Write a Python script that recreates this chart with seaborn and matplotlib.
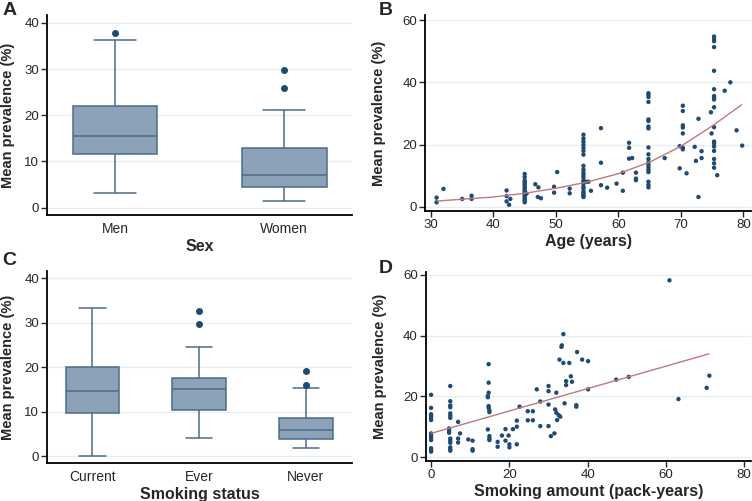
import numpy as np
import pandas as pd
import matplotlib
matplotlib.use("Agg")
import matplotlib.pyplot as plt
import seaborn as sns

# ---------- data ----------
# A: mean prevalence by sex
men_prev = [3.2, 8.0, 11.6, 13.5, 15.4, 18.5, 22.0, 36.2, 37.9]
women_prev = [1.5, 2.5, 3.5, 4.5, 5.5, 6.3, 7.1, 9.0, 11.0, 12.9, 21.2, 25.9, 29.8]
sex_labels = ["Men", "Women"]

# C: mean prevalence by smoking status
current_prev = [0.1, 5.0, 9.8, 12.0, 14.7, 17.0, 20.0, 26.0, 33.4]
ever_prev = [4.2, 7.0, 9.0, 10.4, 12.0, 13.5, 15.0, 16.0, 16.8, 17.5, 24.6, 29.8, 32.6]
never_prev = [1.9, 2.5, 3.2, 3.8, 4.5, 5.3, 6.0, 6.8, 7.6, 8.5, 15.4, 15.9, 19.1]
smoke_labels = ["Current", "Ever", "Never"]

# B: prevalence vs age
age = [30.9, 30.9, 32.0, 35.0, 36.5, 36.5, 42.1, 42.1, 42.1, 42.5, 42.7,
       45.0, 45.0, 45.0, 45.0, 45.0, 45.0, 45.0, 45.0, 45.0, 45.0, 45.0, 45.0, 45.0, 45.0, 45.0, 45.0, 45.0, 45.3,
       46.7, 47.2, 47.1, 47.6, 49.7, 49.7, 50.2, 52.2, 52.2,
       54.4, 54.4, 54.4, 54.4, 54.4, 54.4, 54.4, 54.4, 54.4, 54.4, 54.4, 54.4, 54.4, 54.4, 54.4, 54.4, 54.4,
       54.4, 54.4, 54.4, 54.4, 54.4, 54.8, 55.2, 55.6,
       57.2, 57.2, 57.2, 58.2, 59.7, 60.7, 60.7, 61.7, 61.7, 61.7, 62.2, 62.8, 62.8, 62.8,
       64.8, 64.8, 64.8, 64.8, 64.8, 64.8, 64.8, 64.8, 64.8, 64.8, 64.8, 64.8, 64.8, 64.8, 64.8, 64.8,
       64.8, 64.8, 64.8,
       67.4, 69.8, 69.8, 70.3, 70.3, 70.3, 70.3, 70.3, 70.3, 70.3, 70.9,
       72.2, 72.4, 72.8, 72.8, 73.3, 73.3, 74.8, 74.9,
       75.3, 75.3, 75.3, 75.3, 75.3, 75.3, 75.3, 75.3, 75.3, 75.3, 75.3, 75.3, 75.3, 75.3, 75.3, 75.3,
       75.3, 75.3, 75.8, 77.0, 77.9, 78.9, 79.8]
age_prev = [3.0, 1.5, 5.8, 2.6, 3.6, 2.6, 5.3, 3.5, 1.8, 0.7, 2.6,
            10.6, 9.6, 8.5, 8.0, 7.5, 7.0, 6.5, 6.0, 5.5, 5.0, 4.5, 4.0, 3.5, 3.0, 2.5, 2.0, 1.5, 4.3,
            7.3, 6.3, 3.2, 2.8, 6.5, 4.6, 11.2, 5.9, 4.4,
            23.2, 22.0, 21.0, 20.0, 19.0, 18.0, 16.8, 13.2, 12.0, 11.0, 10.3, 9.5, 8.5, 8.0, 7.5, 6.5, 6.0,
            5.0, 4.5, 4.0, 3.5, 3.2, 8.1, 8.1, 5.2,
            25.3, 14.2, 7.0, 6.2, 7.5, 11.0, 5.2, 20.6, 19.0, 15.5, 15.7, 11.0, 9.1, 8.6,
            36.5, 36.0, 35.3, 33.7, 28.1, 27.6, 25.8, 25.2, 19.1, 16.9, 15.4, 14.3, 13.5, 12.7, 11.9, 11.2,
            8.1, 7.1, 6.3,
            15.7, 12.4, 19.5, 32.5, 30.8, 26.2, 25.5, 23.6, 19.0, 18.5, 10.8,
            19.3, 14.8, 28.3, 3.2, 17.9, 15.7, 30.4, 23.6,
            54.7, 53.8, 53.2, 51.3, 43.7, 37.8, 35.6, 35.1, 34.5, 32.0, 25.6, 21.0, 20.4, 19.4, 18.0, 15.4,
            14.0, 12.6, 10.2, 37.3, 40.0, 24.6, 19.7]
# fitted curve
age_fit_x = [31, 35, 40, 45, 50, 55, 60, 65, 70, 75, 79.7]
age_fit_y = [1.9, 2.5, 3.2, 4.4, 6.0, 8.0, 10.7, 14.4, 19.5, 26.0, 32.8]

# D: prevalence vs pack-years
pack = [0, 0, 0, 0, 0, 0, 0, 0, 0, 0, 0, 0, 0,
        4.9, 4.9, 4.9, 4.9, 4.9, 4.9, 4.9, 4.6, 4.6, 4.6, 4.9, 4.9, 4.9, 4.9, 4.9, 4.9,
        6.9, 7.4, 6.9, 6.9, 9.5, 10.6, 10.6, 10.6,
        14.7, 14.7, 14.7, 14.5, 14.5, 14.7, 14.7, 14.9, 14.9, 14.5, 14.9, 14.9, 14.9,
        17.0, 17.0, 18.1, 19.0, 19.0, 19.8, 20.0, 20.0, 20.9, 21.9, 21.9, 21.9, 22.6,
        24.7, 24.7, 26.0, 26.0, 27.0, 27.9, 27.9,
        30.0, 30.0, 30.0, 30.0, 30.6, 31.5, 31.7, 32.0, 32.0, 32.2, 32.6, 32.8, 33.0, 33.3, 33.4,
        33.8, 33.8, 34.1, 34.5, 34.5, 35.3, 35.7, 36.0, 37.3, 37.1, 37.1, 38.6, 40.1, 40.1,
        47.3, 50.5, 60.9, 63.2, 70.4, 71.1]
pack_prev = [20.5, 16.2, 14.1, 13.6, 12.9, 12.2, 7.8, 7.1, 6.4, 5.6, 2.9, 2.3, 1.8,
             23.4, 18.4, 17.0, 16.4, 14.4, 13.6, 12.9, 9.4, 8.7, 8.0, 6.1, 5.4, 4.7, 3.2, 2.6, 2.1,
             11.6, 7.8, 6.1, 4.8, 5.8, 5.4, 2.6, 2.1,
             30.6, 24.5, 21.2, 20.1, 19.7, 16.8, 16.2, 15.4, 14.8, 9.1, 6.9, 6.1, 5.6,
             5.0, 3.4, 7.1, 9.2, 5.4, 7.1, 4.2, 3.2, 9.2, 12.0, 4.2, 10.0, 16.6,
             15.1, 12.1, 15.1, 12.1, 22.3, 18.3, 10.2,
             23.4, 21.7, 17.3, 10.2, 6.9, 7.8, 15.7, 21.2, 14.6, 12.2, 13.8, 32.1, 13.3, 36.3, 36.8,
             40.5, 31.0, 17.7, 25.0, 23.7, 31.0, 26.6, 24.8, 34.6, 17.1, 16.6, 32.1, 31.6, 22.3,
             25.5, 26.4, 58.2, 19.1, 22.8, 26.8]
# fitted line
pack_fit_x = [0, 71]
pack_fit_y = [7.8, 34.0]

# ---------- style ----------
sns.set_style("white")
plt.rcParams["font.family"] = ["Liberation Sans", "DejaVu Sans"]

navy = "#1f4a74"
box_fill = "#8ca2b8"
box_edge = "#4c6b8a"
fit_col = "#c0797f"
grid_col = "#e6edf1"

sex_df = pd.DataFrame({
    "Sex": ["Men"] * len(men_prev) + ["Women"] * len(women_prev),
    "prev": men_prev + women_prev,
})
smoke_df = pd.DataFrame({
    "Smoking status": ["Current"] * len(current_prev) + ["Ever"] * len(ever_prev) + ["Never"] * len(never_prev),
    "prev": current_prev + ever_prev + never_prev,
})
age_df = pd.DataFrame({"age": age, "prev": age_prev})
pack_df = pd.DataFrame({"pack": pack, "prev": pack_prev})

fig = plt.figure(figsize=(7.52, 5.01), dpi=100)
axA = fig.add_axes([0.063, 0.571, 0.405, 0.399])
axB = fig.add_axes([0.5656, 0.5794, 0.433, 0.3906])
axC = fig.add_axes([0.063, 0.0752, 0.405, 0.3844])
axD = fig.add_axes([0.5665, 0.0804, 0.432, 0.377])

flier = dict(marker="o", markersize=4, markerfacecolor=navy, markeredgecolor=navy)


def box_panel(ax, df, xcol, order, xlim):
    sns.boxplot(data=df, x=xcol, y="prev", order=order, ax=ax, color=box_fill,
                saturation=1, width=0.5, linecolor=box_edge, linewidth=1.1,
                flierprops=flier)
    ax.set_xlim(*xlim)
    ax.set_ylim(-1.6, 41.7)
    ax.set_yticks([0, 10, 20, 30, 40])
    ax.tick_params(axis="x", length=0, labelsize=10, pad=5)


def common(ax, xlabel, label_x):
    ax.yaxis.grid(True, color=grid_col, lw=0.9)
    ax.set_axisbelow(True)
    for s in ["top", "right"]:
        ax.spines[s].set_visible(False)
    for s in ["left", "bottom"]:
        ax.spines[s].set_color("black")
        ax.spines[s].set_linewidth(1.3)
    ax.tick_params(axis="y", length=4, width=1, labelsize=9.5, left=True, pad=2)
    ax.set_ylabel("Mean prevalence (%)", fontsize=10.5, fontweight="bold")
    ax.set_xlabel(xlabel, fontsize=11.5, fontweight="bold", labelpad=2)
    ax.yaxis.set_label_coords(label_x, 0.5)


box_panel(axA, sex_df, "Sex", sex_labels, (-0.4, 1.4))
common(axA, "Sex", -0.105)
box_panel(axC, smoke_df, "Smoking status", smoke_labels, (-0.42, 2.43))
common(axC, "Smoking status", -0.105)

sns.scatterplot(data=age_df, x="age", y="prev", ax=axB, s=10, color=navy, edgecolor="none")
sns.lineplot(x=age_fit_x, y=age_fit_y, ax=axB, color=fit_col, lw=1)
axB.set_xlim(29.1, 81.2)
axB.set_ylim(-1.2, 61.6)
axB.set_xticks([30, 40, 50, 60, 70, 80])
axB.set_yticks([0, 20, 40, 60])
common(axB, "Age (years)", -0.12)
axB.tick_params(axis="x", length=4, width=1, labelsize=9.5, bottom=True, pad=2)

sns.scatterplot(data=pack_df, x="pack", y="prev", ax=axD, s=10, color=navy, edgecolor="none")
sns.lineplot(x=pack_fit_x, y=pack_fit_y, ax=axD, color=fit_col, lw=1)
axD.set_xlim(-1.3, 81.7)
axD.set_ylim(-1.2, 61.0)
axD.set_xticks([0, 20, 40, 60, 80])
axD.set_yticks([0, 20, 40, 60])
common(axD, "Smoking amount (pack-years)", -0.12)
axD.tick_params(axis="x", length=4, width=1, labelsize=9.5, bottom=True, pad=2)

for lab, x, y in [("A", 0.003, 0.997), ("B", 0.503, 0.997), ("C", 0.003, 0.497), ("D", 0.503, 0.482)]:
    fig.text(x, y, lab, fontsize=14, fontweight="bold", ha="left", va="top")

fig.savefig("out.png", dpi=100)
